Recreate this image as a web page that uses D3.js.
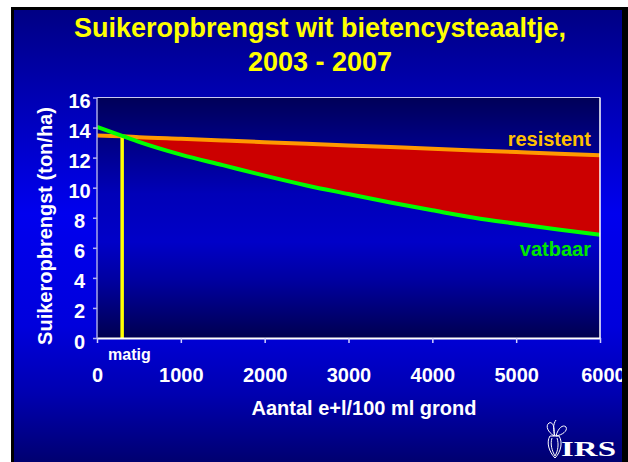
<!DOCTYPE html>
<html><head><meta charset="utf-8">
<script src="https://cdn.jsdelivr.net/npm/d3@7"></script>
<style>html,body{margin:0;padding:0;background:#fff;}svg{display:block;}</style>
</head><body>
<script>
// ---- data ----
const titleLines = ["Suikeropbrengst wit bietencysteaaltje,", "2003 - 2007"];
const xValues = [0, 300, 500, 1000, 1500, 2000, 2500, 3000, 3500, 4000, 4500, 5000, 5500, 6000];
const vatbaar = [14.05, 13.45, 13.05, 12.2, 11.5, 10.8, 10.15, 9.58, 9.02, 8.5, 8.0, 7.6, 7.22, 6.87];
const resistent = [13.47, 13.42, 13.36, 13.25, 13.14, 13.03, 12.92, 12.81, 12.70, 12.59, 12.48, 12.37, 12.26, 12.15];
const matigX = 300;
const xTicks = [0, 1000, 2000, 3000, 4000, 5000, 6000];
const yTicks = [0, 2, 4, 6, 8, 10, 12, 14, 16];
const xLabel = "Aantal e+l/100 ml grond";
const yLabel = "Suikeropbrengst (ton/ha)";

const W = 628, H = 462;
const svg = d3.select("body").append("svg").attr("width", W).attr("height", H);
const defs = svg.append("defs");

const bg = defs.append("linearGradient").attr("id", "bg").attr("x1", 0).attr("y1", 0).attr("x2", 0).attr("y2", 1);
[[0, "#000084"], [0.18, "#0000b0"], [0.45, "#0000ee"], [0.7, "#0000dc"], [0.85, "#0000b0"], [1, "#000070"]]
  .forEach(([o, c]) => bg.append("stop").attr("offset", o).attr("stop-color", c));
const pg = defs.append("linearGradient").attr("id", "pg").attr("x1", 0).attr("y1", 0).attr("x2", 0).attr("y2", 1);
[[0, "#000058"], [0.4, "#0000b8"], [0.6, "#0000c8"], [0.76, "#0000a0"], [1, "#000050"]]
  .forEach(([o, c]) => pg.append("stop").attr("offset", o).attr("stop-color", c));

// frame
svg.append("rect").attr("x", 11).attr("y", 7).attr("width", W - 11).attr("height", H - 7).attr("fill", "#000");
svg.append("rect").attr("x", 14).attr("y", 10).attr("width", 622 - 14).attr("height", H - 10).attr("fill", "url(#bg)");

// title
const font = "'Liberation Sans', Arial, sans-serif";
svg.append("text").attr("x", 320).attr("y", 37).attr("text-anchor", "middle")
  .attr("font-family", font).attr("font-weight", "bold").attr("font-size", 27).attr("fill", "#ffff00").text(titleLines[0]);
svg.append("text").attr("x", 320).attr("y", 71).attr("text-anchor", "middle")
  .attr("font-family", font).attr("font-weight", "bold").attr("font-size", 27).attr("fill", "#ffff00").text(titleLines[1]);

// scales
const x = d3.scaleLinear().domain([0, 6000]).range([97, 600]);
const y = d3.scaleLinear().domain([0, 16]).range([338, 97.5]);

// plot area
svg.append("rect").attr("x", x(0)).attr("y", y(16)).attr("width", x(6000) - x(0)).attr("height", y(0) - y(16)).attr("fill", "url(#pg)");

const pts = xValues.map((v, i) => ({x: v, g: vatbaar[i], r: resistent[i]}));
const curve = d3.curveMonotoneX;

// red area between resistent and vatbaar (from intersection)
const area = d3.area().x(d => x(d.x)).y0(d => y(d.g)).y1(d => y(d.r)).curve(curve);
svg.append("path").datum(pts.filter(d => d.x >= matigX)).attr("d", area).attr("fill", "#cc0000");

// resistent line
const lineR = d3.line().x(d => x(d.x)).y(d => y(d.r)).curve(curve);
svg.append("path").datum(pts).attr("d", lineR).attr("fill", "none").attr("stroke", "#ff9900").attr("stroke-width", 4);

// matig vertical line
const iM = xValues.indexOf(matigX);
svg.append("line").attr("x1", x(matigX)).attr("x2", x(matigX)).attr("y1", y(vatbaar[iM])).attr("y2", y(0))
  .attr("stroke", "#ffff00").attr("stroke-width", 3.5);

// vatbaar line
const lineG = d3.line().x(d => x(d.x)).y(d => y(d.g)).curve(curve);
svg.append("path").datum(pts).attr("d", lineG).attr("fill", "none").attr("stroke", "#00ff00").attr("stroke-width", 4);

// plot border (top/right white, left lavender)
svg.append("line").attr("x1", x(0)).attr("x2", x(6000)).attr("y1", y(16)).attr("y2", y(16)).attr("stroke", "#c8c8f0").attr("stroke-width", 1.2);
svg.append("line").attr("x1", x(6000)).attr("x2", x(6000)).attr("y1", y(16)).attr("y2", y(0)).attr("stroke", "#ffffff").attr("stroke-width", 1.5);
svg.append("line").attr("x1", x(0)).attr("x2", x(0)).attr("y1", y(16)).attr("y2", y(0)).attr("stroke", "#a8a8e8").attr("stroke-width", 1.5);

// axes
const xAxis = d3.axisBottom(x).tickValues(xTicks).tickSize(5).tickSizeOuter(0).tickPadding(25).tickFormat(d3.format("d"));
const gx = svg.append("g").attr("transform", `translate(0,${y(0)})`).call(xAxis);
gx.select(".domain").attr("stroke", "#ffffff").attr("stroke-width", 2);
gx.selectAll(".tick line").attr("stroke", "#d0d0ff").attr("stroke-width", 1.5);
gx.selectAll(".tick text").attr("fill", "#ffffff").attr("font-family", font).attr("font-weight", "bold").attr("font-size", 20);
gx.selectAll(".tick text").filter(d => d === 6000).attr("dx", 3);

const yAxis = d3.axisLeft(y).tickValues(yTicks).tickSize(4).tickSizeOuter(0).tickPadding(0);
const gy = svg.append("g").attr("transform", `translate(${x(0)},0)`).call(yAxis);
gy.select(".domain").remove();
gy.selectAll(".tick line").attr("stroke", "#b0b0f0").attr("stroke-width", 1.5);
gy.selectAll(".tick text").attr("fill", "#ffffff").attr("font-family", font).attr("font-weight", "bold").attr("font-size", 20)
  .attr("text-anchor", "middle").attr("x", -17.5).attr("dy", "10px");

// axis titles
svg.append("text").attr("x", 364).attr("y", 415).attr("text-anchor", "middle")
  .attr("font-family", font).attr("font-weight", "bold").attr("font-size", 20).attr("fill", "#ffffff").text(xLabel);
svg.append("text").attr("transform", "translate(52,226) rotate(-90)").attr("text-anchor", "middle")
  .attr("font-family", font).attr("font-weight", "bold").attr("font-size", 20).attr("fill", "#ffffff").text(yLabel);

// series labels
svg.append("text").attr("x", 591).attr("y", 146).attr("text-anchor", "end")
  .attr("font-family", font).attr("font-weight", "bold").attr("font-size", 20).attr("fill", "#ffc000").text("resistent");
svg.append("text").attr("x", 591).attr("y", 256).attr("text-anchor", "end")
  .attr("font-family", font).attr("font-weight", "bold").attr("font-size", 20).attr("fill", "#00e600").text("vatbaar");
svg.append("text").attr("x", 108).attr("y", 360)
  .attr("font-family", font).attr("font-weight", "bold").attr("font-size", 16).attr("fill", "#ffffff").text("matig");

// IRS logo
const logo = svg.append("g").attr("fill", "none").attr("stroke", "#ffffff").attr("stroke-width", 1);
logo.append("path").attr("d", "M550,436 C546,442 549,452 555,458 C561,452 563,442 559,436 Z");
logo.append("path").attr("d", "M552,438 C550,444 552,451 555,456 M557,438 C559,444 558,451 555,456");
logo.append("path").attr("d", "M554,436 C548,432 545,426 549,423 C553,421 555,428 554,436 Z");
logo.append("path").attr("d", "M556,436 C558,428 563,424 566,427 C568,431 562,435 556,436 Z");
logo.append("path").attr("d", "M555,436 C553,430 553,424 556,420");
svg.append("text").attr("x", 561).attr("y", 456).attr("font-family", "'Liberation Serif', 'Times New Roman', serif")
  .attr("font-weight", "bold").attr("font-size", 22).attr("fill", "#ffffff").attr("textLength", 55).attr("lengthAdjust", "spacingAndGlyphs").text("IRS");

// right black edge on top
svg.append("rect").attr("x", 622).attr("y", 7).attr("width", W - 622).attr("height", H - 7).attr("fill", "#000");
</script>
</body></html>
